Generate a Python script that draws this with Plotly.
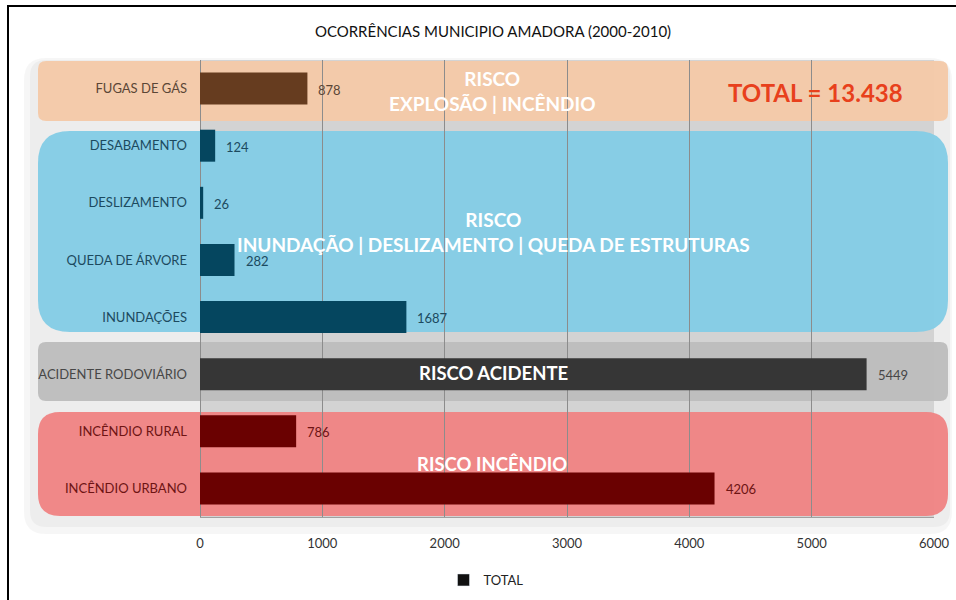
import plotly.graph_objects as go

# ---------------- data ----------------
title_text = "OCORRÊNCIAS MUNICIPIO AMADORA (2000-2010)"
categories = ["FUGAS DE GÁS", "DESABAMENTO", "DESLIZAMENTO", "QUEDA DE ÁRVORE",
              "INUNDAÇÕES", "ACIDENTE RODOVIÁRIO", "INCÊNDIO RURAL", "INCÊNDIO URBANO"]
values = [878, 124, 26, 282, 1687, 5449, 786, 4206]
groups = ["gas", "agua", "agua", "agua", "agua", "acidente", "incendio", "incendio"]
x_ticks = [0, 1000, 2000, 3000, 4000, 5000, 6000]
series_name = "TOTAL"
total_label = "TOTAL = 13.438"
group_labels = {
    "gas": "RISCO<br>EXPLOSÃO | INCÊNDIO",
    "agua": "RISCO<br>INUNDAÇÃO | DESLIZAMENTO | QUEDA DE ESTRUTURAS",
    "acidente": "RISCO ACIDENTE",
    "incendio": "RISCO INCÊNDIO",
}

# ---------------- styles ----------------
bar_colors = {"gas": "#663c1f", "agua": "#05465f", "acidente": "#363636", "incendio": "#6a0101"}
label_colors = {"gas": "#5b4636", "agua": "#1c4a5f", "acidente": "#474747", "incendio": "#6e1414"}
band_colors = {"gas": "rgba(244,201,168,0.95)", "agua": "rgba(134,205,230,0.98)",
               "acidente": "rgba(188,188,188,0.96)", "incendio": "rgba(239,131,131,0.96)"}

FONT = "Lato, 'Open Sans', sans-serif"
W, H = 956, 600
L, R, T, B = 200, 934, 60, 517


def px_x(px):
    return (px - L) / (R - L)


def px_y(py):
    return (B - py) / (B - T)


def rrect(x0, y0, x1, y1, r):
    pts = [
        ("M", [(x0 + r, y0)]), ("L", [(x1 - r, y0)]), ("Q", [(x1, y0), (x1, y0 + r)]),
        ("L", [(x1, y1 - r)]), ("Q", [(x1, y1), (x1 - r, y1)]), ("L", [(x0 + r, y1)]),
        ("Q", [(x0, y1), (x0, y1 - r)]), ("L", [(x0, y0 + r)]), ("Q", [(x0, y0), (x0 + r, y0)]),
    ]
    s = ""
    for cmd, ps in pts:
        s += cmd + " " + " ".join(f"{px_x(a):.5f},{px_y(b):.5f}" for a, b in ps) + " "
    return s + "Z"


# band geometry (pixels: x0, y0, x1, y1, radius)
bands = {
    "gas": (38, 61, 948, 121, 8),
    "agua": (38, 131, 948, 332, 32),
    "acidente": (38, 342, 948, 401, 8),
    "incendio": (38, 412, 948, 516, 22),
}
band_text_pos = {"gas": (492, 91), "agua": (493, 232), "acidente": (493, 373), "incendio": (492, 464)}
band_text_size = {"gas": 19, "agua": 19, "acidente": 18.5, "incendio": 18.5}

fig = go.Figure()

fig.add_trace(go.Bar(
    x=values, y=categories, orientation="h",
    marker=dict(color=[bar_colors[g] for g in groups], line=dict(width=0)),
    showlegend=False, hoverinfo="x+y",
))
# legend entry
fig.add_trace(go.Bar(x=[None], y=[None], orientation="h", name=series_name,
                     marker=dict(color="#111111"), showlegend=True))

shapes = []
# soft shadow
shapes.append(dict(type="path", path=rrect(24, 58, 952, 534, 22), xref="paper", yref="paper",
                   fillcolor="rgba(0,0,0,0.035)", line=dict(width=0), layer="below"))
shapes.append(dict(type="path", path=rrect(30, 60, 950, 527, 16), xref="paper", yref="paper",
                   fillcolor="rgba(0,0,0,0.035)", line=dict(width=0), layer="below"))
for g, (x0, y0, x1, y1, r) in bands.items():
    shapes.append(dict(type="path", path=rrect(x0, y0, x1, y1, r), xref="paper", yref="paper",
                       fillcolor=band_colors[g], line=dict(width=0), layer="below"))
# outer black frame
shapes.append(dict(type="rect", xref="paper", yref="paper",
                   x0=px_x(8), x1=px_x(964), y0=px_y(6), y1=px_y(610),
                   line=dict(color="black", width=2), fillcolor="rgba(0,0,0,0)", layer="above"))

annotations = []
for g, txt in group_labels.items():
    cx, cy = band_text_pos[g]
    annotations.append(dict(text=txt, x=px_x(cx), y=px_y(cy), xref="paper", yref="paper",
                            showarrow=False, xanchor="center", yanchor="middle",
                            font=dict(family=FONT, size=band_text_size[g], color="white",
                                      weight="bold")))
annotations.append(dict(text=total_label, x=px_x(815), y=px_y(92), xref="paper", yref="paper",
                        showarrow=False, xanchor="center", yanchor="middle",
                        font=dict(family=FONT, size=24, color="#e8401c", weight="bold")))
# data labels
for c, v, g in zip(categories, values, groups):
    annotations.append(dict(text=str(v), x=v, y=c, xref="x", yref="y", showarrow=False,
                            xanchor="left", yanchor="middle", xshift=9, yshift=-1,
                            font=dict(family=FONT, size=13, color=label_colors[g])))

ticktext = [f"<span style='color:{label_colors[g]}'>{c}</span>" for c, g in zip(categories, groups)]

fig.update_layout(
    width=W, height=H,
    margin=dict(l=L, r=W - R, t=T, b=H - B, pad=0, autoexpand=False),
    paper_bgcolor="white", plot_bgcolor="#e3e3e3",
    title=dict(text=title_text, x=493 / W, y=1 - 32 / H, xref="container", yref="container",
               xanchor="center", yanchor="middle",
               font=dict(family=FONT, size=15, color="#111111")),
    bargap=0.44,
    shapes=shapes, annotations=annotations,
    legend=dict(orientation="h", x=px_x(486), y=px_y(580), xanchor="center", yanchor="middle",
                font=dict(family=FONT, size=13, color="#222222"), bgcolor="rgba(0,0,0,0)",
                itemwidth=30),
    font=dict(family=FONT),
)
fig.update_xaxes(range=[0, 6000], tickvals=x_ticks, ticktext=[str(t) for t in x_ticks],
                 showgrid=True, gridcolor="#8c8c8c", gridwidth=1, automargin=False,
                 zeroline=True, zerolinecolor="#8c8c8c", zerolinewidth=1,
                 showline=True, linecolor="#a0a0a0", linewidth=1,
                 ticks="", ticklabelstandoff=14,
                 tickfont=dict(family=FONT, size=13, color="#333333"))
fig.update_yaxes(categoryorder="array", categoryarray=categories, autorange="reversed",
                 tickvals=categories, ticktext=ticktext, ticks="", ticklabelstandoff=12,
                 showgrid=False, zeroline=False, automargin=False,
                 tickfont=dict(family=FONT, size=13))

fig.write_html("out.html", post_script="document.body.style.margin='0';",
               config={"displayModeBar": False})
